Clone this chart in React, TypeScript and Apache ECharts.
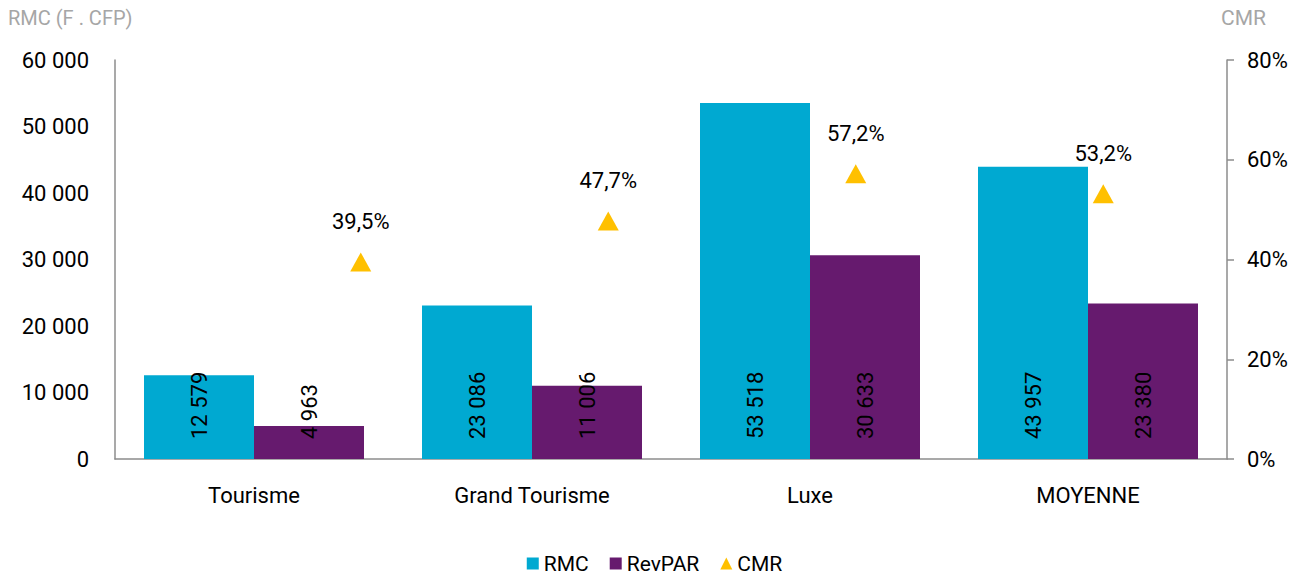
import React, { useEffect, useRef } from "react";
import * as echarts from "echarts";

const categories = ["Tourisme", "Grand Tourisme", "Luxe", "MOYENNE"];
const rmc = [12579, 23086, 53518, 43957];
const revpar = [4963, 11006, 30633, 23380];
const cmr = [39.5, 47.7, 57.2, 53.2];

const FONT = "Roboto, sans-serif";
const fmtThousands = (v: number) => String(Math.round(v)).replace(/\B(?=(\d{3})+(?!\d))/g, " ");

export default function App() {
  const ref = useRef<HTMLDivElement>(null);
  useEffect(() => {
    document.body.style.margin = "0";
    if (!ref.current) return;
    const chart = echarts.init(ref.current, undefined, { renderer: "svg" });
    const barLabel = {
      show: true,
      position: "insideBottom",
      rotate: 90,
      align: "left",
      verticalAlign: "middle",
      distance: 20,
      color: "#000",
      fontSize: 22,
      fontFamily: FONT,
      formatter: (p: any) => fmtThousands(p.value),
    };
    chart.setOption({
      animation: false,
      textStyle: { fontFamily: FONT },
      grid: [
        { left: 115, right: 82, top: 60, bottom: 118, outerBoundsMode: "none", containLabel: false },
        { left: 237, right: 82, top: 60, bottom: 118, outerBoundsMode: "none", containLabel: false },
      ],
      legend: {
        top: 548,
        left: "center",
        itemWidth: 12,
        itemHeight: 12,
        itemGap: 21,
        textStyle: { fontSize: 21, color: "#000", fontFamily: FONT },
        data: [
          { name: "RMC", icon: "rect" },
          { name: "RevPAR", icon: "rect" },
          { name: "CMR", icon: "triangle" },
        ],
      },
      xAxis: [
        {
          type: "category",
          gridIndex: 0,
          data: categories,
          axisLine: { lineStyle: { color: "#8c8c8c", width: 1.5 } },
          axisTick: { show: false },
          axisLabel: { color: "#000", fontSize: 22, margin: 25, fontFamily: FONT },
        },
        {
          type: "category",
          gridIndex: 1,
          data: categories,
          show: false,
        },
      ],
      yAxis: [
        {
          type: "value",
          gridIndex: 0,
          min: 0,
          max: 60000,
          interval: 10000,
          name: "RMC (F . CFP)",
          nameLocation: "end",
          nameGap: 32,
          nameTextStyle: { color: "#a6a6a6", fontSize: 20, align: "left", padding: [0, 0, 0, -107], fontFamily: FONT },
          axisLine: { show: true, lineStyle: { color: "#8c8c8c", width: 1.5 } },
          axisTick: { show: false },
          splitLine: { show: false },
          axisLabel: { color: "#000", fontSize: 22, margin: 26, fontFamily: FONT, formatter: (v: number) => fmtThousands(v) },
        },
        {
          type: "value",
          gridIndex: 0,
          min: 0,
          max: 80,
          interval: 20,
          position: "right",
          name: "CMR",
          nameLocation: "end",
          nameGap: 32,
          nameTextStyle: { color: "#a6a6a6", fontSize: 21, align: "left", padding: [0, 0, 0, -6], fontFamily: FONT },
          axisLine: { show: true, lineStyle: { color: "#8c8c8c", width: 1.5 } },
          axisTick: { show: true, inside: false, length: 7, lineStyle: { color: "#8c8c8c", width: 1.5 } },
          splitLine: { show: false },
          axisLabel: { color: "#000", fontSize: 22, margin: 20, fontFamily: FONT, formatter: (v: number) => v + "%" },
        },
        {
          type: "value",
          gridIndex: 1,
          min: 0,
          max: 80,
          show: false,
          splitLine: { show: false },
        },
      ],
      series: [
        {
          name: "RMC",
          type: "bar",
          xAxisIndex: 0,
          yAxisIndex: 0,
          data: rmc,
          barWidth: 110,
          barGap: "0%",
          itemStyle: { color: "#00A9D1" },
          label: barLabel,
        },
        {
          name: "RevPAR",
          type: "bar",
          xAxisIndex: 0,
          yAxisIndex: 0,
          data: revpar,
          barWidth: 110,
          barGap: "0%",
          itemStyle: { color: "#661A6E" },
          label: barLabel,
        },
        {
          name: "CMR",
          type: "scatter",
          xAxisIndex: 1,
          yAxisIndex: 2,
          data: cmr,
          symbol: "triangle",
          symbolSize: [21, 19],
          itemStyle: { color: "#FFC000", opacity: 1 },
          label: {
            show: true,
            position: "top",
            distance: 20,
            color: "#000",
            fontSize: 22,
            fontFamily: FONT,
            formatter: (p: any) => String(p.value).replace(".", ",") + "%",
          },
        },
      ],
    });
    return () => chart.dispose();
  }, []);
  return <div ref={ref} style={{ width: 1309, height: 577 }} />;
}
